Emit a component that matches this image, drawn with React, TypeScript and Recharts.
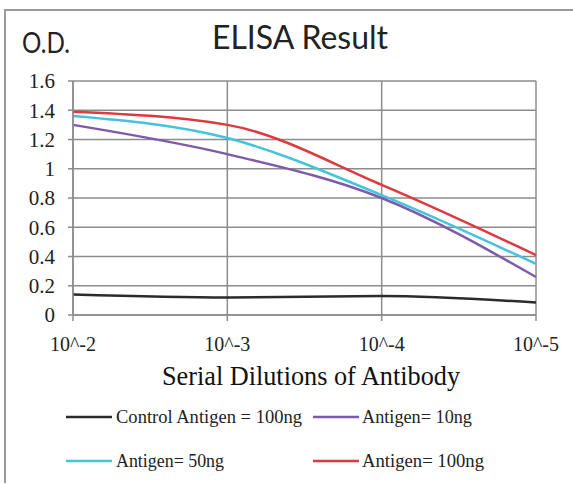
import React from "react";
import { LineChart, Line, XAxis, YAxis, CartesianGrid } from "recharts";

const dilutions = ["10^-2", "10^-3", "10^-4", "10^-5"];
const controlAntigen100 = [0.14, 0.12, 0.13, 0.085];
const antigen10 = [1.3, 1.1, 0.8, 0.26];
const antigen50 = [1.36, 1.21, 0.82, 0.35];
const antigen100 = [1.39, 1.3, 0.89, 0.41];
const yTicks = [0, 0.2, 0.4, 0.6, 0.8, 1, 1.2, 1.4, 1.6];

const series = [
  { key: "control", name: "Control Antigen = 100ng", color: "#2b2b2b", values: controlAntigen100 },
  { key: "a10", name: "Antigen= 10ng", color: "#7d5ba8", values: antigen10 },
  { key: "a50", name: "Antigen= 50ng", color: "#45c3dc", values: antigen50 },
  { key: "a100", name: "Antigen= 100ng", color: "#dc3a3e", values: antigen100 },
];

const data = dilutions.map((d, i) => {
  const row: Record<string, any> = { dilution: d };
  series.forEach((s) => (row[s.key] = s.values[i]));
  return row;
});

const serif = "'Liberation Serif', 'Times New Roman', serif";
const sans = "Lato, 'Open Sans', sans-serif";

const legendPos = [
  { lx: 66, tx: 116, y: 417, tl: 186 },
  { lx: 313, tx: 362, y: 417, tl: 110 },
  { lx: 66, tx: 116, y: 461, tl: 108 },
  { lx: 313, tx: 362, y: 461, tl: 122 },
];

export default function App() {
  return (
    <div
      style={{
        position: "absolute",
        left: 0,
        top: 0,
        width: 573,
        height: 485,
        overflow: "hidden",
        background: "#fff",
      }}
    >
      <div
        style={{
          position: "absolute",
          left: 4,
          top: 9,
          width: 620,
          height: 474,
          borderLeft: "2px solid #9a9a9a",
          borderTop: "2px solid #9a9a9a",
          boxSizing: "border-box",
        }}
      />
      <div style={{ position: "absolute", left: 0, top: 0 }}>
        <LineChart
          width={573}
          height={485}
          data={data}
          margin={{ top: 81, right: 37, bottom: 140, left: 0 }}
        >
          <CartesianGrid stroke="#8c8c8c" strokeWidth={1.5} />
          <XAxis
            dataKey="dilution"
            height={30}
            tickSize={6}
            tickMargin={16}
            stroke="#8c8c8c"
            strokeWidth={1.5}
            tick={{ fill: "#222", fontSize: 20, fontFamily: serif }}
            interval={0}
          />
          <YAxis
            width={73}
            domain={[0, 1.6]}
            ticks={yTicks}
            tickSize={5}
            tickMargin={13}
            stroke="#8c8c8c"
            strokeWidth={1.5}
            tick={{ fill: "#222", fontSize: 21, fontFamily: serif }}
            interval={0}
          />
          {series.map((s) => (
            <Line
              key={s.key}
              dataKey={s.key}
              name={s.name}
              type="monotone"
              stroke={s.color}
              strokeWidth={2.5}
              dot={false}
              isAnimationActive={false}
            />
          ))}
        </LineChart>
      </div>
      <svg
        width={573}
        height={485}
        style={{ position: "absolute", left: 0, top: 0, pointerEvents: "none" }}
      >
        <text x={22} y={53} fontFamily={sans} fontSize={28} fill="#222" textLength={48} lengthAdjust="spacingAndGlyphs">
          O.D.
        </text>
        <text x={212} y={49} fontFamily={sans} fontSize={32} fill="#222" textLength={176} lengthAdjust="spacingAndGlyphs">
          ELISA Result
        </text>
        <text x={162} y={385} fontFamily={serif} fontSize={27} fill="#111" textLength={298} lengthAdjust="spacingAndGlyphs">
          Serial Dilutions  of Antibody
        </text>
        {series.map((s, i) => {
          const p = legendPos[i];
          return (
            <g key={s.key}>
              <line x1={p.lx} x2={p.lx + 46} y1={p.y} y2={p.y} stroke={s.color} strokeWidth={2.5} />
              <text x={p.tx} y={p.y + 6} fontFamily={serif} fontSize={18} fill="#222" textLength={p.tl} lengthAdjust="spacingAndGlyphs">
                {s.name}
              </text>
            </g>
          );
        })}
      </svg>
    </div>
  );
}
